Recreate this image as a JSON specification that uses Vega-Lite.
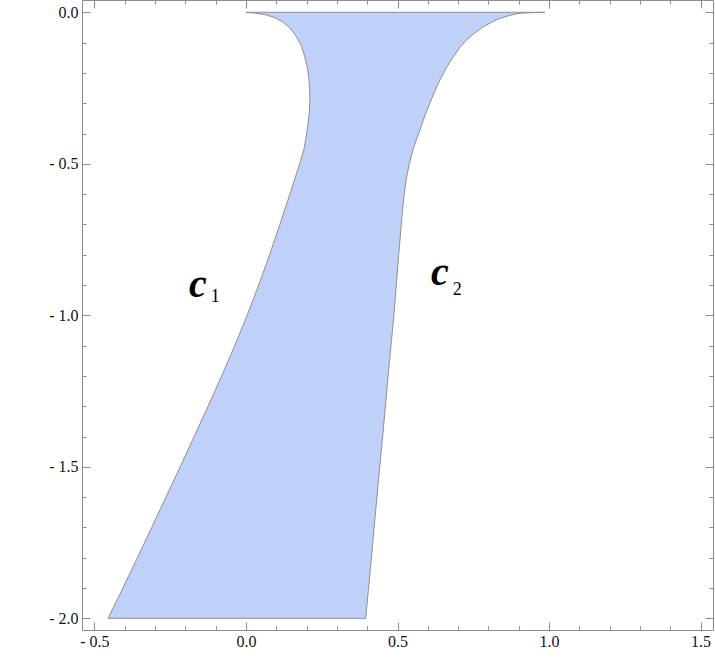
{
  "$schema": "https://vega.github.io/schema/vega-lite/v6.json",
  "width": 631,
  "height": 630,
  "autosize": {"type": "none"},
  "padding": {"left": 82, "top": 0, "right": 2, "bottom": 34},
  "background": "white",
  "config": {
    "view": {"stroke": "#8c8c8c", "strokeWidth": 1},
    "axis": {
      "domain": false,
      "grid": false,
      "title": null,
      "tickColor": "#8c8c8c",
      "labelFont": "Liberation Serif",
      "labelFontSize": 16,
      "labelColor": "#111111"
    }
  },
  "datasets": {
    "region": [
      {"o": 1, "x": 0.0, "y": 0.0},
      {"o": 2, "x": 0.032, "y": -0.003},
      {"o": 3, "x": 0.068, "y": -0.009},
      {"o": 4, "x": 0.095, "y": -0.018},
      {"o": 5, "x": 0.121, "y": -0.031},
      {"o": 6, "x": 0.146, "y": -0.053},
      {"o": 7, "x": 0.167, "y": -0.081},
      {"o": 8, "x": 0.183, "y": -0.111},
      {"o": 9, "x": 0.194, "y": -0.147},
      {"o": 10, "x": 0.203, "y": -0.184},
      {"o": 11, "x": 0.208, "y": -0.223},
      {"o": 12, "x": 0.210, "y": -0.256},
      {"o": 13, "x": 0.211, "y": -0.289},
      {"o": 14, "x": 0.209, "y": -0.329},
      {"o": 15, "x": 0.205, "y": -0.366},
      {"o": 16, "x": 0.199, "y": -0.408},
      {"o": 17, "x": 0.191, "y": -0.454},
      {"o": 18, "x": 0.177, "y": -0.5},
      {"o": 19, "x": 0.145, "y": -0.6},
      {"o": 20, "x": 0.112, "y": -0.7},
      {"o": 21, "x": 0.078, "y": -0.8},
      {"o": 22, "x": 0.042, "y": -0.9},
      {"o": 23, "x": 0.004, "y": -1.0},
      {"o": 24, "x": -0.037, "y": -1.1},
      {"o": 25, "x": -0.080, "y": -1.2},
      {"o": 26, "x": -0.125, "y": -1.3},
      {"o": 27, "x": -0.171, "y": -1.4},
      {"o": 28, "x": -0.217, "y": -1.5},
      {"o": 29, "x": -0.264, "y": -1.6},
      {"o": 30, "x": -0.311, "y": -1.7},
      {"o": 31, "x": -0.358, "y": -1.8},
      {"o": 32, "x": -0.406, "y": -1.9},
      {"o": 33, "x": -0.455, "y": -2.0},
      {"o": 34, "x": 0.395, "y": -2.0},
      {"o": 35, "x": 0.414, "y": -1.8},
      {"o": 36, "x": 0.432, "y": -1.6},
      {"o": 37, "x": 0.451, "y": -1.4},
      {"o": 38, "x": 0.469, "y": -1.2},
      {"o": 39, "x": 0.488, "y": -1.0},
      {"o": 40, "x": 0.496, "y": -0.9},
      {"o": 41, "x": 0.504, "y": -0.8},
      {"o": 42, "x": 0.5125, "y": -0.7},
      {"o": 43, "x": 0.517, "y": -0.65},
      {"o": 44, "x": 0.522, "y": -0.6},
      {"o": 45, "x": 0.529, "y": -0.55},
      {"o": 46, "x": 0.539, "y": -0.5},
      {"o": 47, "x": 0.551, "y": -0.454},
      {"o": 48, "x": 0.562, "y": -0.421},
      {"o": 49, "x": 0.574, "y": -0.389},
      {"o": 50, "x": 0.590, "y": -0.342},
      {"o": 51, "x": 0.607, "y": -0.299},
      {"o": 52, "x": 0.623, "y": -0.261},
      {"o": 53, "x": 0.640, "y": -0.223},
      {"o": 54, "x": 0.661, "y": -0.184},
      {"o": 55, "x": 0.684, "y": -0.147},
      {"o": 56, "x": 0.704, "y": -0.118},
      {"o": 57, "x": 0.728, "y": -0.091},
      {"o": 58, "x": 0.755, "y": -0.068},
      {"o": 59, "x": 0.783, "y": -0.048},
      {"o": 60, "x": 0.810, "y": -0.033},
      {"o": 61, "x": 0.838, "y": -0.020},
      {"o": 62, "x": 0.871, "y": -0.010},
      {"o": 63, "x": 0.904, "y": -0.003},
      {"o": 64, "x": 0.947, "y": -0.001},
      {"o": 65, "x": 0.986, "y": 0.0},
      {"o": 66, "x": 0.0, "y": 0.0}
    ],
    "mains": [
      {"x": -0.159, "y": -0.94, "t": "c"},
      {"x": 0.64, "y": -0.9, "t": "c"}
    ],
    "subs": [
      {"x": -0.101, "y": -0.956, "t": "1"},
      {"x": 0.697, "y": -0.933, "t": "2"}
    ]
  },
  "layer": [
    {
      "data": {"name": "region"},
      "mark": {"type": "line", "fill": "#c0d1f9", "stroke": "#8f8f8f", "strokeWidth": 1, "interpolate": "linear"},
      "encoding": {
        "x": {
          "field": "x", "type": "quantitative",
          "scale": {"domain": [-0.541, 1.541], "nice": false, "zero": false},
          "axis": {
            "orient": "bottom",
            "values": [-0.5, -0.4, -0.3, -0.2, -0.1, 0.0, 0.1, 0.2, 0.3, 0.4, 0.5, 0.6, 0.7, 0.8, 0.9, 1.0, 1.1, 1.2, 1.3, 1.4, 1.5],
            "labelExpr": "abs(datum.value*2 - round(datum.value*2)) < 0.001 ? (datum.value < 0 ? '- ' + format(abs(datum.value), '.1f') : format(datum.value, '.1f')) : ''",
            "tickSize": {"condition": {"test": "abs(datum.value*2 - round(datum.value*2)) < 0.001", "value": -8}, "value": -4},
            "labelPadding": 11
          }
        },
        "y": {
          "field": "y", "type": "quantitative",
          "scale": {"domain": [-2.0386, 0.0406], "nice": false, "zero": false},
          "axis": {
            "orient": "left",
            "values": [-2.0, -1.9, -1.8, -1.7, -1.6, -1.5, -1.4, -1.3, -1.2, -1.1, -1.0, -0.9, -0.8, -0.7, -0.6, -0.5, -0.4, -0.3, -0.2, -0.1, 0.0],
            "labelExpr": "abs(datum.value*2 - round(datum.value*2)) < 0.001 ? (datum.value < 0 ? '- ' + format(abs(datum.value), '.1f') : format(datum.value, '.1f')) : ''",
            "tickSize": {"condition": {"test": "abs(datum.value*2 - round(datum.value*2)) < 0.001", "value": -8}, "value": -4},
            "labelPadding": 12
          }
        },
        "order": {"field": "o", "type": "quantitative"}
      }
    },
    {
      "data": {"name": "mains"},
      "mark": {"type": "text", "font": "Liberation Serif", "fontSize": 40, "fontWeight": "bold", "fontStyle": "italic", "align": "center", "baseline": "alphabetic", "color": "black"},
      "encoding": {
        "x": {
          "field": "x", "type": "quantitative",
          "scale": {"domain": [-0.541, 1.541], "nice": false, "zero": false},
          "axis": {
            "orient": "top",
            "values": [-0.5, -0.4, -0.3, -0.2, -0.1, 0.0, 0.1, 0.2, 0.3, 0.4, 0.5, 0.6, 0.7, 0.8, 0.9, 1.0, 1.1, 1.2, 1.3, 1.4, 1.5],
            "labels": false,
            "tickSize": {"condition": {"test": "abs(datum.value*2 - round(datum.value*2)) < 0.001", "value": -8}, "value": -4}
          }
        },
        "y": {
          "field": "y", "type": "quantitative",
          "scale": {"domain": [-2.0386, 0.0406], "nice": false, "zero": false},
          "axis": {
            "orient": "right",
            "values": [-2.0, -1.9, -1.8, -1.7, -1.6, -1.5, -1.4, -1.3, -1.2, -1.1, -1.0, -0.9, -0.8, -0.7, -0.6, -0.5, -0.4, -0.3, -0.2, -0.1, 0.0],
            "labels": false,
            "tickSize": {"condition": {"test": "abs(datum.value*2 - round(datum.value*2)) < 0.001", "value": -8}, "value": -4}
          }
        },
        "text": {"field": "t"}
      }
    },
    {
      "data": {"name": "subs"},
      "mark": {"type": "text", "font": "Liberation Serif", "fontSize": 18, "align": "center", "baseline": "alphabetic", "color": "black"},
      "encoding": {
        "x": {"field": "x", "type": "quantitative", "scale": {"domain": [-0.541, 1.541], "nice": false, "zero": false}, "axis": null},
        "y": {"field": "y", "type": "quantitative", "scale": {"domain": [-2.0386, 0.0406], "nice": false, "zero": false}, "axis": null},
        "text": {"field": "t"}
      }
    }
  ],
  "resolve": {"axis": {"x": "independent", "y": "independent"}}
}
